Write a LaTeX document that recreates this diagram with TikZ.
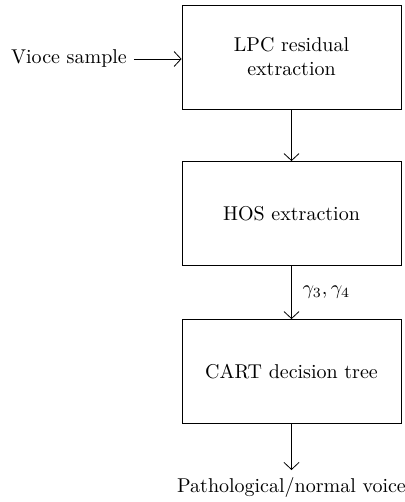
\documentclass[tikz,border=0pt]{standalone}
\usepackage{amsmath,amssymb}
\usepackage{tikz}
\usetikzlibrary{calc}
\usetikzlibrary{arrows.meta}
\tikzset{
  stagebox/.style={draw, thin, minimum width=109.5pt, minimum height=52pt, align=center, inner sep=2pt},
  flowarrow/.style={thin, -{Straight Barb[length=3.5pt,width=7.5pt]}}
}
\newcommand{\stage}[4]{\node[stagebox] (#1) at ( #2 , #3 ) {#4};}
\newcommand{\textnode}[4]{\node[inner sep=3.3pt] (#1) at ( #2 , #3 ) {#4};}

\begin{document}
\begin{tikzpicture}[x=0.5pt,y=-0.5pt]
        \useasboundingbox (0,0) rectangle (405,502);
        % stages
        \stage{lpc}{291.5}{57}{LPC residual\\extraction}
        \stage{hos}{291.5}{213.5}{HOS extraction}
        \stage{cart}{291.5}{371.5}{CART decision tree}
        % input and output
        \textnode{inp}{69}{59}{Vioce sample}
        \textnode{outp}{291.5}{487}{Pathological/normal voice}
        % arrows
        \draw[flowarrow] (inp.east) -- (inp.east -| lpc.west);
        \draw[flowarrow] (lpc) -- (hos);
        \draw[flowarrow] (hos) -- node[right, xshift=2pt] {$\gamma_3, \gamma_4$} (cart);
        \draw[flowarrow] (cart) -- (outp);
    \end{tikzpicture}
\end{document}
